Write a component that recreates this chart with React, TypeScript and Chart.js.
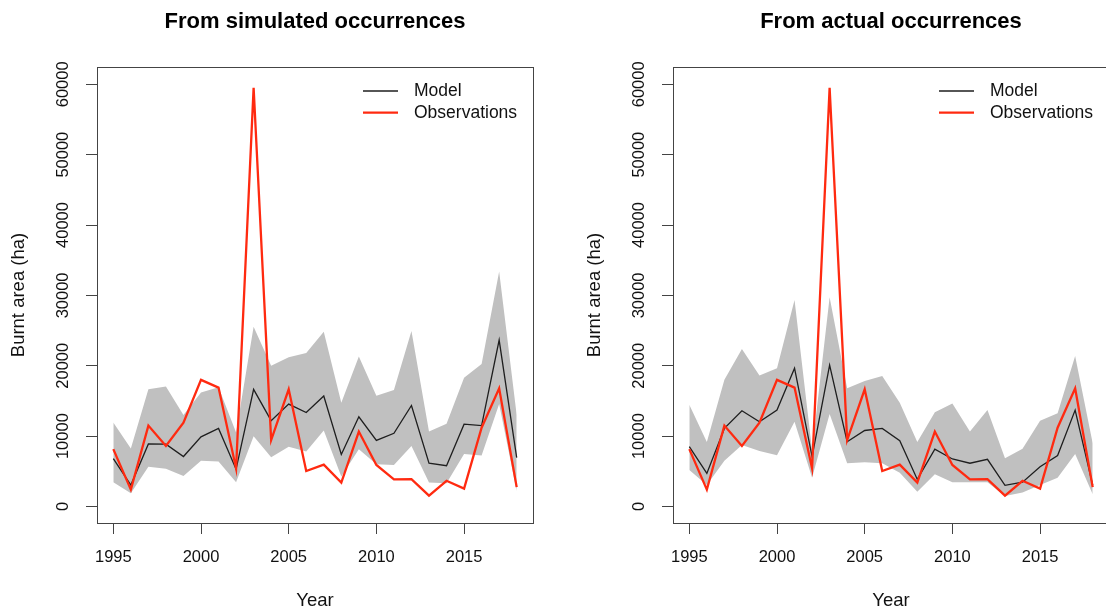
import React, { useEffect, useRef } from 'react';
import { Chart, registerables } from 'chart.js';

Chart.register(...registerables);

const years = [1995, 1996, 1997, 1998, 1999, 2000, 2001, 2002, 2003, 2004, 2005, 2006, 2007, 2008, 2009, 2010, 2011, 2012, 2013, 2014, 2015, 2016, 2017, 2018];

const observations = [8150, 2400, 11500, 8600, 11900, 18000, 16900, 5400, 59500, 9450, 16650, 5050, 5950, 3400, 10650, 5900, 3850, 3900, 1550, 3650, 2550, 11200, 16800, 2750];

const simModel = [6800, 3050, 8900, 8850, 7100, 9900, 11100, 5300, 16650, 12200, 14550, 13350, 15700, 7400, 12750, 9400, 10400, 14350, 6150, 5800, 11700, 11500, 23650, 6950];
const simLower = [3450, 1900, 5650, 5350, 4350, 6500, 6400, 3450, 10000, 7000, 8500, 7800, 10800, 4250, 8150, 6000, 5900, 8600, 3400, 3300, 7450, 7250, 14550, 2200];
const simUpper = [11950, 8250, 16650, 17050, 13000, 16200, 16950, 10500, 25550, 20000, 21200, 21800, 24850, 14750, 21300, 15750, 16550, 24950, 10650, 11750, 18300, 20250, 33400, 13000];

const actModel = [8500, 4700, 11100, 13600, 12050, 13700, 19650, 7100, 20100, 9200, 10800, 11100, 9350, 3850, 8150, 6750, 6150, 6700, 3000, 3450, 5650, 7250, 13700, 3050];
const actLower = [5200, 3050, 6500, 8750, 7900, 7300, 12050, 4100, 13150, 6150, 6300, 6150, 4800, 2100, 4600, 3450, 3450, 3450, 1500, 2000, 3050, 4100, 7450, 1750];
const actUpper = [14450, 9150, 18000, 22400, 18600, 19650, 29350, 8000, 29750, 16800, 17850, 18550, 14750, 9150, 13400, 14650, 10650, 13700, 6850, 8200, 12200, 13250, 21400, 9000];

const xTicks = [1995, 2000, 2005, 2010, 2015];
const yTicks = [0, 10000, 20000, 30000, 40000, 50000, 60000];
const legendLabels = ['Model', 'Observations'];

const FONT = 'Liberation Sans, Arial, Helvetica, sans-serif';
const RED = '#ff2a10';
const MODEL = '#1e1e1e';
const BAND = '#c0c0c0';

const pts = (vals: number[]) => years.map((x, i) => ({ x, y: vals[i] }));

const boxPlugin = {
  id: 'plotBox',
  afterDatasetsDraw(chart: any) {
    const { ctx, chartArea: a } = chart;
    ctx.save();
    ctx.strokeStyle = '#444';
    ctx.lineWidth = 1;
    ctx.strokeRect(Math.round(a.left) + 0.5, Math.round(a.top) + 0.5, Math.round(a.right - a.left), Math.round(a.bottom - a.top));
    ctx.restore();
  },
};

const legendPlugin = {
  id: 'innerLegend',
  afterDraw(chart: any) {
    const { ctx, chartArea: a } = chart;
    const items = legendLabels.map((l) => chart.data.datasets.find((d: any) => d.label === l));
    ctx.save();
    ctx.font = `17.5px ${FONT}`;
    ctx.textBaseline = 'middle';
    ctx.textAlign = 'left';
    items.forEach((d: any, k: number) => {
      const y = a.top + 24 + k * 21.7;
      ctx.strokeStyle = d.borderColor;
      ctx.lineWidth = d.borderWidth;
      ctx.beginPath();
      ctx.moveTo(a.right - 170, y);
      ctx.lineTo(a.right - 135, y);
      ctx.stroke();
      ctx.fillStyle = '#111';
      ctx.fillText(d.label, a.right - 119, y);
    });
    ctx.restore();
  },
};

function makeConfig(title: string, model: number[], lower: number[], upper: number[]): any {
  return {
    type: 'line',
    data: {
      datasets: [
        { label: 'Observations', data: pts(observations), borderColor: RED, borderWidth: 2.3, pointRadius: 0, tension: 0, fill: false, order: 0 },
        { label: 'Model', data: pts(model), borderColor: MODEL, borderWidth: 1.3, pointRadius: 0, tension: 0, fill: false, order: 1 },
        { label: 'Lower', data: pts(lower), borderColor: 'rgba(0,0,0,0)', borderWidth: 0, pointRadius: 0, tension: 0, fill: false, order: 3 },
        { label: 'Upper', data: pts(upper), borderColor: 'rgba(0,0,0,0)', borderWidth: 0, pointRadius: 0, tension: 0, fill: 2, backgroundColor: BAND, order: 2 },
      ],
    },
    options: {
      animation: false,
      responsive: false,
      maintainAspectRatio: false,
      devicePixelRatio: 1,
      layout: { padding: { left: 0, right: 43, top: 0, bottom: 0 } },
      plugins: {
        legend: { display: false },
        tooltip: { enabled: false },
        title: {
          display: true,
          text: title,
          fullSize: false,
          color: '#000',
          font: { family: FONT, size: 22, weight: 'bold' },
          padding: { top: 9, bottom: 31.6 },
        },
      },
      scales: {
        x: {
          type: 'linear',
          min: 1994.07,
          max: 2018.93,
          afterBuildTicks: (s: any) => { s.ticks = xTicks.map((v) => ({ value: v })); },
          afterFit: (s: any) => { s.height = 89; },
          ticks: { callback: (v: any) => String(v), color: '#111', font: { family: FONT, size: 16.5 }, padding: 14, maxRotation: 0, minRotation: 0, autoSkip: false },
          grid: { drawOnChartArea: false, drawTicks: true, tickLength: 11, color: '#444', lineWidth: 1 },
          border: { display: false },
          title: { display: true, text: 'Year', color: '#111', font: { family: FONT, size: 18.5 }, padding: { top: 0, bottom: 0 } },
        },
        y: {
          type: 'linear',
          min: -2345,
          max: 62458,
          afterBuildTicks: (s: any) => { s.ticks = yTicks.map((v) => ({ value: v })); },
          afterFit: (s: any) => { s.width = 97; },
          ticks: { callback: (v: any) => String(v), color: '#111', font: { family: FONT, size: 16.5 }, padding: 0, minRotation: 90, maxRotation: 90, crossAlign: 'center', autoSkip: false },
          grid: { drawOnChartArea: false, drawTicks: true, tickLength: 11, color: '#444', lineWidth: 1 },
          border: { display: false },
          title: { display: true, text: 'Burnt area (ha)', color: '#111', font: { family: FONT, size: 18.5 }, padding: { top: 8, bottom: 0 } },
        },
      },
    },
    plugins: [boxPlugin, legendPlugin],
  };
}

function Panel({ left, title, model, lower, upper }: { left: number; title: string; model: number[]; lower: number[]; upper: number[] }) {
  const ref = useRef<HTMLCanvasElement | null>(null);
  useEffect(() => {
    if (!ref.current) return;
    const chart = new Chart(ref.current, makeConfig(title, model, lower, upper));
    return () => chart.destroy();
  }, [title, model, lower, upper]);
  return (
    <canvas
      ref={ref}
      width={576}
      height={612}
      style={{ position: 'absolute', left, top: 0, width: 576, height: 612, display: 'block' }}
    />
  );
}

export default function App() {
  return (
    <div style={{ position: 'fixed', left: 0, top: 0, width: 1106, height: 612, overflow: 'hidden', background: '#fff' }}>
      <Panel left={0} title="From simulated occurrences" model={simModel} lower={simLower} upper={simUpper} />
      <Panel left={576} title="From actual occurrences" model={actModel} lower={actLower} upper={actUpper} />
    </div>
  );
}
